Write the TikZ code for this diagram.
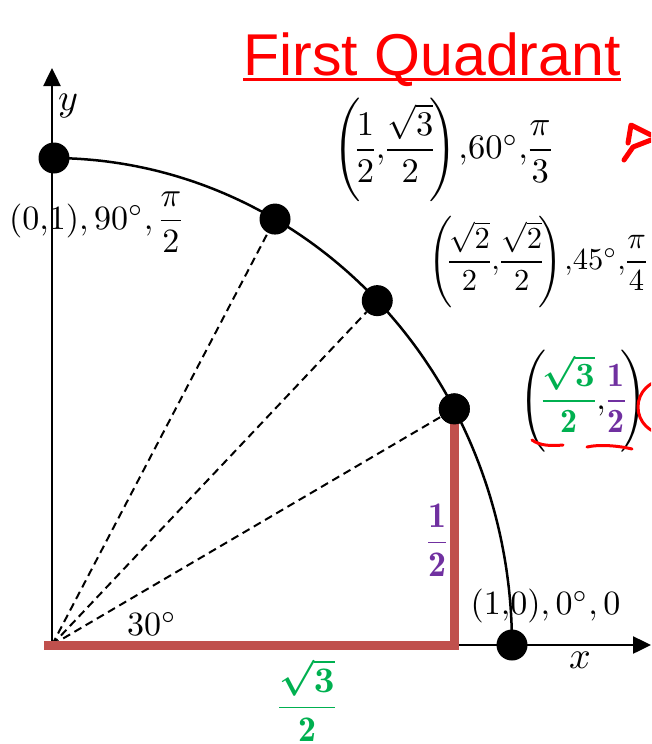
\documentclass[tikz,border=0pt]{standalone}
\usepackage{amsmath}
\usepackage{fontspec}
\newfontfamily\titlefont{Liberation Sans}
\usetikzlibrary{arrows.meta}
\definecolor{barred}{RGB}{192,80,77}
\definecolor{mgreen}{RGB}{0,176,80}
\definecolor{mpurple}{RGB}{112,48,160}
\newcommand\cma{{,}}
\newcommand\lpar{\left(\mskip-3mu}
\newcommand\rpar{\mskip-3mu\right)\mskip-2mu}
\begin{document}
\nulldelimiterspace=0.5pt
\begin{tikzpicture}[x=1pt,y=-1pt,
  dot/.style={circle,fill=black,inner sep=0pt,minimum size=31pt},
  lbl/.style={inner sep=0pt,scale=3.4},
  flbl/.style={inner sep=0pt,scale=3.05},
  axisline/.style={line width=2.5pt,-{Triangle[length=18pt,width=17pt]}},
  radial/.style={line width=2pt,dash pattern=on 8pt off 5pt},
  bar/.style={barred,line width=9pt,line join=miter},
  hand/.style={red,line width=5pt,line cap=round,line join=round},
  handthin/.style={red,line width=3pt,line cap=round}]
\useasboundingbox (0,0) rectangle (651,744);
\clip (0,0) rectangle (651,744);

% title
\node[inner sep=0pt,text=red,font=\titlefont\fontsize{59}{60}\selectfont,anchor=base] (title) at (432,75) {First Quadrant};
\draw[red,line width=3pt] ([yshift=-4pt]title.base west) -- ([yshift=-4pt]title.base east);

% circle arc
\draw[line width=2.5pt] plot[domain=0:90,samples=120] ({52+460*cos(\x)},{645-487*sin(\x)});

% axes
\coordinate (O) at (52,645);
\coordinate (ytip) at (52,68);
\coordinate (xtip) at (651,645);
\draw[axisline] (O) -- (ytip);
\draw[axisline] (O) -- (xtip);

% points
\node[dot] (p0) at (512,645) {};
\node[dot] (p30) at ({52+460*cos(29)},{645-487*sin(29)}) {};
\node[dot] (p45) at ({52+460*cos(45)},{645-487*sin(45)}) {};
\node[dot] (p60) at ({52+460*cos(61)},{645-487*sin(61)}) {};
\node[dot] (p90) at (54,158) {};

% dashed radii
\draw[radial] (O) -- (p30);
\draw[radial] (O) -- (p45);
\draw[radial] (O) -- (p60);

% red triangle legs
\coordinate (barL) at (44,645);
\draw[bar] (barL) -- (p30 |- O) -- (p30.center);
\node[dot] at (p30) {};

% labels
\node[lbl] (l90) at (96,222) {$(0\cma1)\cma\,90^\circ\cma\,\dfrac{\pi}{2}$};
\node[flbl,scale=3.45/3.05,anchor=west] (l60) at (333,150) {$\lpar\dfrac{1}{2}\cma\dfrac{\sqrt{3}}{2}\rpar\cma60^\circ\cma\dfrac{\pi}{3}$};
\node[flbl,anchor=west] (l45) at (428,262) {$\lpar\dfrac{\sqrt{2}}{2}\cma\dfrac{\sqrt{2}}{2}\rpar\cma45^\circ\cma\dfrac{\pi}{4}$};
\node[flbl,scale=3.4/3.05,anchor=west] (l30) at (519,401) {$\lpar\textcolor{mgreen}{\dfrac{\boldsymbol{\sqrt{3}}}{\mathbf{2}}}\cma\textcolor{mpurple}{\dfrac{\mathbf{1}}{\mathbf{2}}}\rpar\cma$};
\node[lbl,anchor=west] (l0) at (470,606) {$(1\cma0)\cma\,0^\circ\cma\,0$};
\node[lbl] (a30) at (152,624) {$30^\circ$};
\node[lbl,scale=3.6/3.4,text=mpurple] (half) at (437,540) {$\dfrac{\mathbf{1}}{\mathbf{2}}$};
\node[lbl,scale=3.6/3.4,text=mgreen] (rt3) at (307,700) {$\dfrac{\boldsymbol{\sqrt{3}}}{\mathbf{2}}$};
\node[lbl,scale=3.8/3.4] (ylab) at (68,106) {$y$};
\node[lbl,scale=3.8/3.4] (xlab) at (580,660) {$x$};

% red handwriting
\draw[hand] (624,160) -- (633,147) -- (651,140);
\draw[hand] (628,143) -- (631,125) -- (651,135);
\draw[handthin] (665,407) circle (27);
\draw[handthin] (532,440) .. controls (540,446) and (552,446) .. (563,445);
\draw[handthin] (587,447) .. controls (600,444) and (620,446) .. (632,449);
\end{tikzpicture}
\end{document}
